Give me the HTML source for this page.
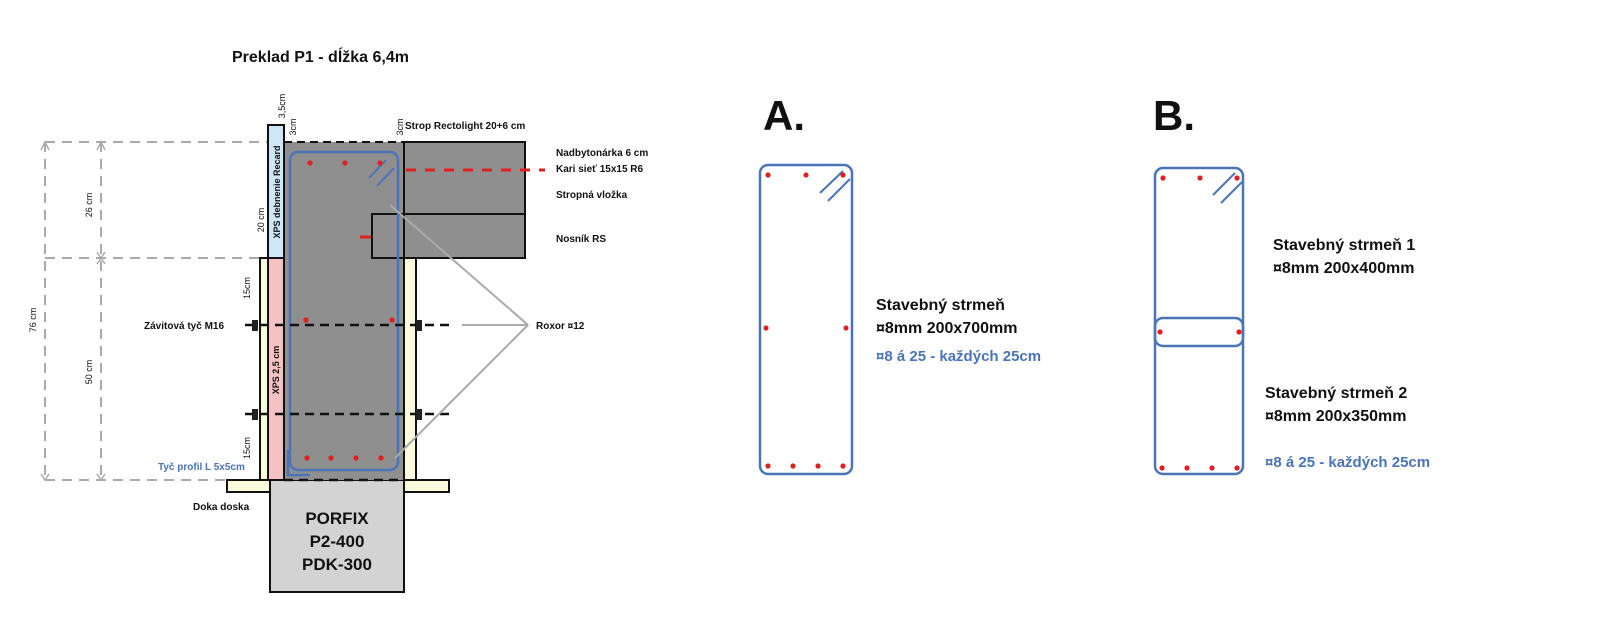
<!DOCTYPE html>
<html><head><meta charset="utf-8"><style>
html,body{margin:0;padding:0;background:#fff}
svg{display:block}
text{font-family:"Liberation Sans",sans-serif;font-weight:bold;fill:#111}
</style></head><body>
<svg width="1600" height="629" viewBox="0 0 1600 629" xmlns="http://www.w3.org/2000/svg">
<!-- title -->
<text x="232" y="62" font-size="16">Preklad P1 - dĺžka 6,4m</text>

<!-- dimension dashed lines -->
<g stroke="#aaa" stroke-width="2" stroke-dasharray="10,7" fill="none">
<line x1="45" y1="142" x2="268" y2="142"/>
<line x1="45" y1="258" x2="262" y2="258"/>
<line x1="45" y1="480" x2="260" y2="480"/>
<line x1="45" y1="142" x2="45" y2="480"/>
<line x1="101" y1="142" x2="101" y2="480"/>
</g>
<g stroke="#aaa" stroke-width="1.5" fill="none">
<polyline points="41,150 45,142 49,150"/><polyline points="97,150 101,142 105,150"/>
<polyline points="97,252 101,258 105,252"/><polyline points="97,264 101,258 105,264"/>
<polyline points="41,474 45,480 49,474"/><polyline points="97,474 101,480 105,474"/>
</g>
<g font-size="9" font-weight="normal">
<text transform="translate(92,205) rotate(-90)" text-anchor="middle" style="font-weight:normal">26 cm</text>
<text transform="translate(36,320) rotate(-90)" text-anchor="middle" style="font-weight:normal">76 cm</text>
<text transform="translate(92,372) rotate(-90)" text-anchor="middle" style="font-weight:normal">50 cm</text>
<text transform="translate(264,220) rotate(-90)" text-anchor="middle" style="font-weight:normal">20 cm</text>
<text transform="translate(250,288) rotate(-90)" text-anchor="middle" style="font-weight:normal">15cm</text>
<text transform="translate(250,448) rotate(-90)" text-anchor="middle" style="font-weight:normal">15cm</text>
<text transform="translate(285,106) rotate(-90)" text-anchor="middle" style="font-weight:normal">3,5cm</text>
<text transform="translate(296,127) rotate(-90)" text-anchor="middle" style="font-weight:normal">3cm</text>
<text transform="translate(403,127) rotate(-90)" text-anchor="middle" style="font-weight:normal">3cm</text>
</g>

<!-- porfix -->
<rect x="270" y="480" width="134" height="112" fill="#d3d3d3" stroke="#111" stroke-width="2"/>
<text x="337" y="524" font-size="17" text-anchor="middle">PORFIX</text>
<text x="337" y="547" font-size="17" text-anchor="middle">P2-400</text>
<text x="337" y="570" font-size="17" text-anchor="middle">PDK-300</text>
<!-- base plate -->
<rect x="227" y="480" width="43" height="12" fill="#fafadc" stroke="#111" stroke-width="2"/>
<rect x="404" y="480" width="45" height="12" fill="#fafadc" stroke="#111" stroke-width="2"/>
<!-- main concrete -->
<rect x="284" y="142" width="120" height="338" fill="#8f8f8f"/>
<line x1="404" y1="258" x2="404" y2="480" stroke="#111" stroke-width="2"/>
<line x1="284" y1="258" x2="284" y2="480" stroke="#111" stroke-width="2"/>
<!-- slab -->
<rect x="404" y="142" width="121" height="116" fill="#8f8f8f" stroke="#111" stroke-width="2"/>
<rect x="372" y="214" width="153" height="44" fill="none" stroke="#111" stroke-width="2"/>
<line x1="284" y1="142" x2="404" y2="142" stroke="#111" stroke-width="2" stroke-dasharray="8,5"/>
<!-- yellow boards -->
<rect x="260" y="258" width="8" height="222" fill="#fafadc" stroke="#111" stroke-width="2"/>
<rect x="404" y="258" width="12" height="222" fill="#fafadc" stroke="#111" stroke-width="2"/>
<!-- pink -->
<rect x="268" y="258" width="16" height="222" fill="#f4c2c2" stroke="#111" stroke-width="2"/>
<text transform="translate(279,370) rotate(-90)" font-size="9" text-anchor="middle">XPS 2,5 cm</text>
<!-- XPS blue -->
<rect x="268" y="125" width="16" height="133" fill="#cfe6f5" stroke="#111" stroke-width="2"/>
<text transform="translate(280,192) rotate(-90)" font-size="9" text-anchor="middle">XPS debnenie Recard</text>

<!-- stirrup -->
<rect x="290" y="152" width="108" height="318" rx="8" fill="none" stroke="#4a74b8" stroke-width="2.5"/>
<line x1="369" y1="178" x2="386" y2="160" stroke="#4a74b8" stroke-width="2"/>
<line x1="377" y1="186" x2="394" y2="168" stroke="#4a74b8" stroke-width="2"/>
<polyline points="288,450 288,475 310,475" fill="none" stroke="#4a74b8" stroke-width="2.5"/>
<!-- slab rebar -->
<line x1="406" y1="170" x2="545" y2="170" stroke="#e02020" stroke-width="3" stroke-dasharray="10,9"/>
<line x1="360" y1="237" x2="371" y2="237" stroke="#e02020" stroke-width="3"/>
<!-- red dots -->
<g fill="#e02020">
<circle cx="310" cy="163" r="2.6"/><circle cx="345" cy="163" r="2.6"/><circle cx="380" cy="163" r="2.6"/>
<circle cx="306" cy="320" r="2.6"/><circle cx="392" cy="320" r="2.6"/>
<circle cx="307" cy="458" r="2.6"/><circle cx="331" cy="458" r="2.6"/><circle cx="356" cy="458" r="2.6"/><circle cx="381" cy="458" r="2.6"/>
</g>
<!-- bolts -->
<g stroke="#111" stroke-width="2.5" stroke-dasharray="9,6">
<line x1="245" y1="325" x2="455" y2="325"/>
<line x1="245" y1="414" x2="455" y2="414"/>
<line x1="284" y1="480" x2="404" y2="480"/>
</g>
<g fill="#222">
<rect x="252" y="320" width="6" height="11"/><rect x="416" y="320" width="6" height="11"/>
<rect x="252" y="409" width="6" height="11"/><rect x="416" y="409" width="6" height="11"/>
</g>
<!-- leader lines to Roxor -->
<g stroke="#aaa" stroke-width="2" fill="none">
<line x1="462" y1="325" x2="528" y2="325"/>
<line x1="528" y1="325" x2="390" y2="205"/>
<line x1="528" y1="325" x2="395" y2="458"/>
</g>

<!-- labels left -->
<g font-size="10">
<text x="405" y="129">Strop Rectolight 20+6 cm</text>
<text x="556" y="156">Nadbytonárka 6 cm</text>
<text x="556" y="172">Kari sieť 15x15 R6</text>
<text x="556" y="198">Stropná vložka</text>
<text x="556" y="242">Nosník RS</text>
<text x="536" y="329">Roxor ¤12</text>
<text x="144" y="329">Závitová tyč M16</text>
<text x="158" y="470" style="fill:#4a74b8">Tyč profil L 5x5cm</text>
<text x="193" y="510">Doka doska</text>
</g>

<!-- A -->
<text x="763" y="130" font-size="42">A.</text>
<rect x="760" y="165" width="92" height="309" rx="8" fill="none" stroke="#4a74b8" stroke-width="2.5"/>
<line x1="820" y1="193" x2="843" y2="171" stroke="#4a74b8" stroke-width="2"/>
<line x1="828" y1="201" x2="850" y2="179" stroke="#4a74b8" stroke-width="2"/>
<g fill="#e02020">
<circle cx="768" cy="175" r="2.6"/><circle cx="806" cy="175" r="2.6"/><circle cx="843" cy="175" r="2.6"/>
<circle cx="766" cy="328" r="2.6"/><circle cx="846" cy="328" r="2.6"/>
<circle cx="768" cy="466" r="2.6"/><circle cx="793" cy="466" r="2.6"/><circle cx="818" cy="466" r="2.6"/><circle cx="843" cy="466" r="2.6"/>
</g>
<text x="876" y="310" font-size="16">Stavebný strmeň</text>
<text x="876" y="333" font-size="16">¤8mm 200x700mm</text>
<text x="876" y="361" font-size="15" style="fill:#4a74b8">¤8 á 25 - každých 25cm</text>

<!-- B -->
<text x="1153" y="130" font-size="42">B.</text>
<rect x="1155" y="168" width="88" height="306" rx="8" fill="none" stroke="#4a74b8" stroke-width="2.5"/>
<rect x="1155" y="318" width="88" height="28" rx="8" fill="none" stroke="#4a74b8" stroke-width="2.5"/>
<line x1="1213" y1="195" x2="1235" y2="173" stroke="#4a74b8" stroke-width="2"/>
<line x1="1221" y1="203" x2="1242" y2="182" stroke="#4a74b8" stroke-width="2"/>
<g fill="#e02020">
<circle cx="1163" cy="178" r="2.6"/><circle cx="1200" cy="178" r="2.6"/><circle cx="1237" cy="178" r="2.6"/>
<circle cx="1160" cy="332" r="2.6"/><circle cx="1239" cy="332" r="2.6"/>
<circle cx="1162" cy="468" r="2.6"/><circle cx="1187" cy="468" r="2.6"/><circle cx="1212" cy="468" r="2.6"/><circle cx="1237" cy="468" r="2.6"/>
</g>
<text x="1273" y="250" font-size="16">Stavebný strmeň 1</text>
<text x="1273" y="273" font-size="16">¤8mm 200x400mm</text>
<text x="1265" y="398" font-size="16">Stavebný strmeň 2</text>
<text x="1265" y="421" font-size="16">¤8mm 200x350mm</text>
<text x="1265" y="467" font-size="15" style="fill:#4a74b8">¤8 á 25 - každých 25cm</text>
</svg>
</body></html>
